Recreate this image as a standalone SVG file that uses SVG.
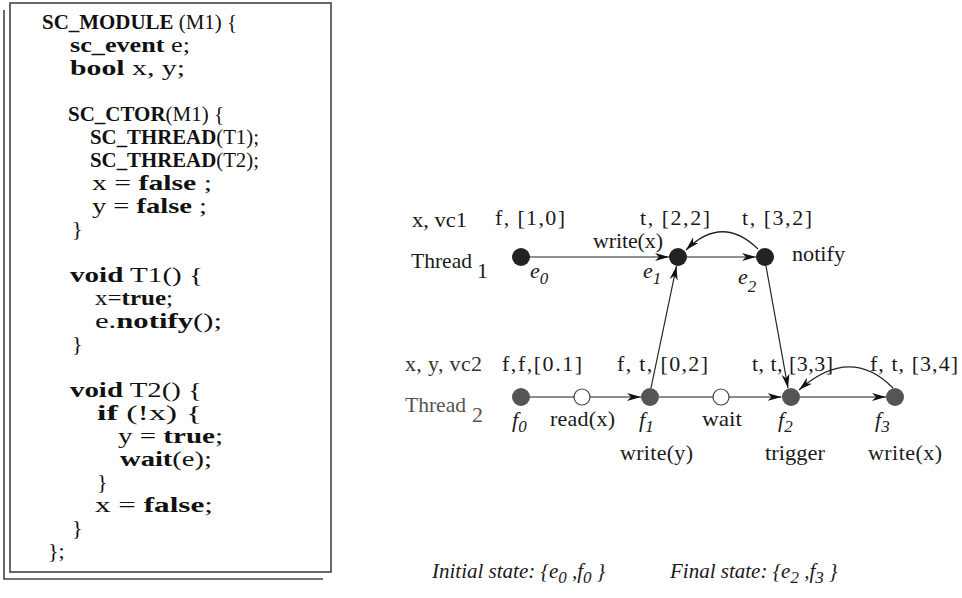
<svg xmlns="http://www.w3.org/2000/svg" width="962" height="598" viewBox="0 0 962 598">
<style>
.code{font-family:"Liberation Serif","Times New Roman",serif;font-size:22px;fill:#111}
.sm{font-size:20px}
.b{font-weight:bold}
.lbl{font-family:"Liberation Serif","Times New Roman",serif;font-size:22px;fill:#1a1a1a}
.it{font-style:italic}
.sub{font-size:17px}
.g{fill:#555}
.edge{stroke:#222;stroke-width:1.2;fill:none}
.edge2{stroke:#666;stroke-width:1.6;fill:none}
.n1{fill:#222}
.n2{fill:#555}
.open{fill:#fff;stroke:#444;stroke-width:1.2}
.frame{stroke:#444;stroke-width:1.6;fill:none}
.st{font-size:21px}
</style>
<defs>
<marker id="arr" markerUnits="userSpaceOnUse" markerWidth="16" markerHeight="10" refX="14" refY="4" orient="auto">
<path d="M0,0 L14,4 L0,8 L4,4 z" fill="#111"/>
</marker>
</defs>
<g id="code-box">
<rect class="frame" x="10" y="3" width="321" height="569"/>
<path class="frame" d="M4,10 V579 H323"/>
<g class="code">
<text class="sm" x="42" y="29" textLength="195" lengthAdjust="spacingAndGlyphs"><tspan class="b">SC_MODULE</tspan> (M1) {</text>
<text x="70" y="52" textLength="120" lengthAdjust="spacingAndGlyphs"><tspan class="b">sc_event</tspan> e;</text>
<text x="70" y="75" textLength="115" lengthAdjust="spacingAndGlyphs"><tspan class="b">bool</tspan> x, y;</text>
<text class="sm" x="68" y="121" textLength="156" lengthAdjust="spacingAndGlyphs"><tspan class="b">SC_CTOR</tspan>(M1) {</text>
<text class="sm" x="90" y="144" textLength="169" lengthAdjust="spacingAndGlyphs"><tspan class="b">SC_THREAD</tspan>(T1);</text>
<text class="sm" x="90" y="167" textLength="169" lengthAdjust="spacingAndGlyphs"><tspan class="b">SC_THREAD</tspan>(T2);</text>
<text x="92" y="190" textLength="120" lengthAdjust="spacingAndGlyphs">x = <tspan class="b">false</tspan> ;</text>
<text x="92" y="213" textLength="115" lengthAdjust="spacingAndGlyphs">y = <tspan class="b">false</tspan> ;</text>
<text x="72" y="236">}</text>
<text x="70" y="282" textLength="133" lengthAdjust="spacingAndGlyphs"><tspan class="b">void</tspan> T1() {</text>
<text x="95" y="305" textLength="78" lengthAdjust="spacingAndGlyphs">x=<tspan class="b">true</tspan>;</text>
<text x="95" y="328" textLength="127" lengthAdjust="spacingAndGlyphs">e.<tspan class="b">notify</tspan>();</text>
<text x="72" y="351">}</text>
<text x="70" y="397" textLength="132" lengthAdjust="spacingAndGlyphs"><tspan class="b">void</tspan> T2() {</text>
<text x="97" y="420" textLength="105" lengthAdjust="spacingAndGlyphs"><tspan class="b">if</tspan> (!x) {</text>
<text x="118" y="443" textLength="105" lengthAdjust="spacingAndGlyphs">y = <tspan class="b">true</tspan>;</text>
<text x="120" y="466" textLength="92" lengthAdjust="spacingAndGlyphs"><tspan class="b">wait</tspan>(e);</text>
<text x="97" y="489">}</text>
<text x="95" y="512" textLength="118" lengthAdjust="spacingAndGlyphs">x = <tspan class="b">false</tspan>;</text>
<text x="72" y="535">}</text>
<text x="48" y="558">};</text>
</g>
</g>
<g id="connectors">
<line class="edge" x1="530" y1="257" x2="669" y2="257" marker-end="url(#arr)"/>
<line class="edge" x1="687" y1="257" x2="756" y2="257" marker-end="url(#arr)"/>
<path class="edge" d="M758,249 Q722,214 686,250" marker-end="url(#arr)"/>
<line class="edge" x1="651" y1="388" x2="676.5" y2="266" marker-end="url(#arr)"/>
<line class="edge" x1="766" y1="266" x2="788" y2="388" marker-end="url(#arr)"/>
<line class="edge2" x1="530" y1="397" x2="641" y2="397" marker-end="url(#arr)"/>
<line class="edge2" x1="659" y1="397" x2="781.5" y2="397" marker-end="url(#arr)"/>
<line class="edge2" x1="800" y1="397" x2="886" y2="397" marker-end="url(#arr)"/>
<path class="edge" d="M893,388 Q850,345 799,390" marker-end="url(#arr)"/>
</g>
<g id="thread1-labels" class="lbl">
<text x="412" y="227" textLength="55" lengthAdjust="spacingAndGlyphs">x, vc1</text>
<text x="411" y="268" textLength="61" lengthAdjust="spacingAndGlyphs">Thread</text>
<text x="477" y="278">1</text>
</g>
<g id="e0">
<circle class="n1" cx="521" cy="257" r="9"/>
<text class="lbl it" x="530" y="278">e<tspan class="sub" dy="6">0</tspan></text>
<text class="lbl" x="495" y="225" textLength="70" lengthAdjust="spacing">f, [1,0]</text>
</g>
<g id="e1">
<circle class="n1" cx="678" cy="257" r="9"/>
<text class="lbl it" x="643" y="278">e<tspan class="sub" dy="6">1</tspan></text>
<text class="lbl" x="640" y="225" textLength="70" lengthAdjust="spacing">t, [2,2]</text>
<text class="lbl" x="593" y="248" textLength="70" lengthAdjust="spacing">write(x)</text>
</g>
<g id="e2">
<circle class="n1" cx="765" cy="257" r="9"/>
<text class="lbl it" x="738" y="284">e<tspan class="sub" dy="8">2</tspan></text>
<text class="lbl" x="742" y="225" textLength="70" lengthAdjust="spacing">t, [3,2]</text>
<text class="lbl" x="792" y="261" textLength="53" lengthAdjust="spacingAndGlyphs">notify</text>
</g>
<g id="thread2-labels" class="lbl">
<text x="405" y="371" textLength="77" lengthAdjust="spacing" fill="#333">x, y, vc2</text>
<text class="g" x="405" y="412" textLength="61" lengthAdjust="spacingAndGlyphs">Thread</text>
<text class="g" x="472" y="422">2</text>
</g>
<g id="f0">
<circle class="n2" cx="521" cy="397" r="9"/>
<text class="lbl it" x="512" y="427">f<tspan class="sub" dy="5">0</tspan></text>
<text class="lbl" x="502" y="371" textLength="80" lengthAdjust="spacing">f,f,[0.1]</text>
</g>
<g id="r1">
<circle class="open" cx="582" cy="397" r="8"/>
<text class="lbl" x="550" y="426" textLength="65" lengthAdjust="spacing">read(x)</text>
</g>
<g id="f1">
<circle class="n2" cx="650" cy="397" r="9"/>
<text class="lbl it" x="639" y="427">f<tspan class="sub" dy="5">1</tspan></text>
<text class="lbl" x="617" y="371" textLength="91" lengthAdjust="spacing">f, t, [0,2]</text>
<text class="lbl" x="620" y="460" textLength="73" lengthAdjust="spacing">write(y)</text>
</g>
<g id="w1">
<circle class="open" cx="721" cy="397" r="8"/>
<text class="lbl" x="702" y="426" textLength="40" lengthAdjust="spacingAndGlyphs">wait</text>
</g>
<g id="f2">
<circle class="n2" cx="791" cy="397" r="9"/>
<text class="lbl it" x="778" y="427">f<tspan class="sub" dy="5">2</tspan></text>
<text class="lbl" x="752" y="371" textLength="81" lengthAdjust="spacing">t, t, [3,3]</text>
<text class="lbl" x="765" y="460" textLength="60" lengthAdjust="spacingAndGlyphs">trigger</text>
</g>
<g id="f3">
<circle class="n2" cx="895" cy="397" r="9"/>
<text class="lbl it" x="875" y="427">f<tspan class="sub" dy="5">3</tspan></text>
<text class="lbl" x="870" y="371" textLength="88" lengthAdjust="spacing">f, t, [3,4]</text>
<text class="lbl" x="868" y="460" textLength="74" lengthAdjust="spacing">write(x)</text>
</g>
<g id="states" class="lbl it st">
<text x="432" y="578">Initial state: {e<tspan class="sub" dy="5">0</tspan><tspan dy="-5"> ,f</tspan><tspan class="sub" dy="5">0</tspan><tspan dy="-5"> }</tspan></text>
<text x="670" y="578">Final state:  {e<tspan class="sub" dy="5">2</tspan><tspan dy="-5"> ,f</tspan><tspan class="sub" dy="5">3</tspan><tspan dy="-5"> }</tspan></text>
</g>
</svg>
